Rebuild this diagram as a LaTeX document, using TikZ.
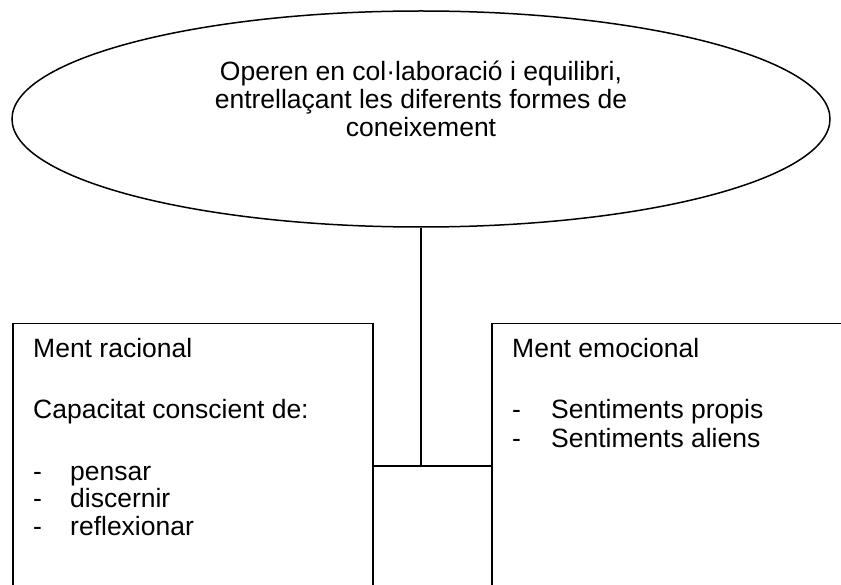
\documentclass[tikz,border=0pt]{standalone}
\usepackage{fontspec}
\setmainfont{Liberation Sans}
\usetikzlibrary{shapes.geometric}
\begin{document}
\begin{tikzpicture}[x=1pt,y=-1pt,
  line/.style={draw=black,line width=1.5pt},
  txt/.style={inner sep=0pt,anchor=base west,font=\fontsize{26.5}{29.5}\selectfont},
  ctxt/.style={inner sep=0pt,anchor=base,font=\fontsize{26.5}{29.5}\selectfont},
  box/.style={line,rectangle,inner sep=0pt,anchor=north west}]
\useasboundingbox (0,0) rectangle (841,585);
\clip (0,0) rectangle (841,585);
\node[line,ellipse,minimum width=818pt,minimum height=216pt,inner sep=0pt] (top) at (421,119) {};
\node[ctxt] (t1) at (421,81) {Operen en col·laboració i equilibri,};
\node[ctxt] (t2) at (421,109) {entrellaçant les diferents formes de};
\node[ctxt] (t3) at (421,137) {coneixement};
\node[box,minimum width=360pt,minimum height=300pt] (left) at (12,323) {};
\node[box,minimum width=380pt,minimum height=300pt] (right) at (491,323) {};
\coordinate (j) at (421,466);
\draw[line] (top.south) -- (top.south |- j);
\draw[line] (left.east |- j) -- (right.west |- j);
% left box text
\node[txt] (l1) at (33,358) {Ment racional};
\node[txt] (l2) at (33,418) {Capacitat conscient de:};
\node[txt] (d1) at (33,480) {-};
\node[txt] (l3) at (70,480) {pensar};
\node[txt] (d2) at (33,507) {-};
\node[txt] (l4) at (70,507) {discernir};
\node[txt] (d3) at (33,535) {-};
\node[txt] (l5) at (70,535) {reflexionar};
% right box text
\node[txt] (r1) at (512,358) {Ment emocional};
\node[txt] (d4) at (512,418) {-};
\node[txt] (r2) at (551,418) {Sentiments propis};
\node[txt] (d5) at (512,447) {-};
\node[txt] (r3) at (551,447) {Sentiments aliens};
\end{tikzpicture}
\end{document}
